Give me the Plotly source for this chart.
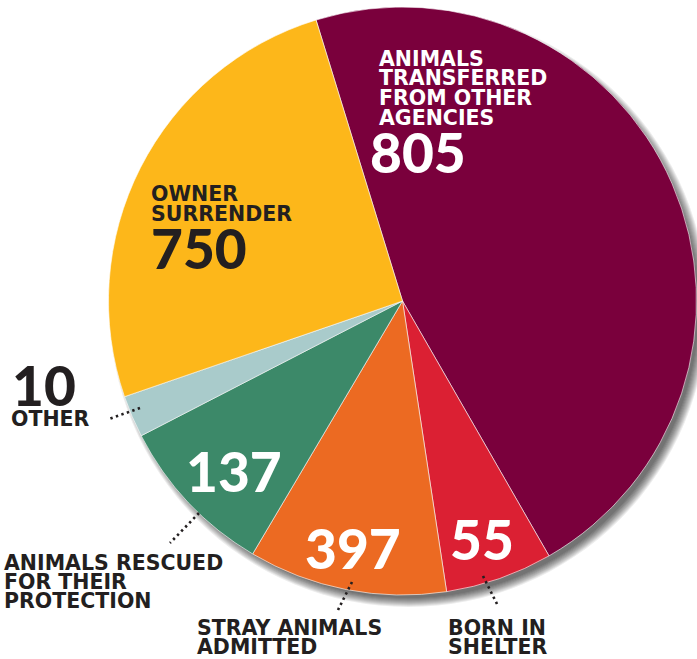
import plotly.graph_objects as go

W, H = 697, 659

# ---------------- data ----------------
categories = ["Animals transferred from other agencies", "Born in shelter",
              "Stray animals admitted", "Animals rescued for their protection",
              "Other", "Owner surrender"]
counts = [805, 55, 397, 137, 10, 750]
# slice shares as drawn in the picture (percent of the circle)
shares = [46.4, 5.9, 10.9, 8.9, 2.3, 25.5]
label_lines = [
    ["ANIMALS", "TRANSFERRED", "FROM OTHER", "AGENCIES"],
    ["BORN IN", "SHELTER"],
    ["STRAY ANIMALS", "ADMITTED"],
    ["ANIMALS RESCUED", "FOR THEIR", "PROTECTION"],
    ["OTHER"],
    ["OWNER", "SURRENDER"],
]
colors = ["#7A003C", "#DB2033", "#EC6A22", "#3C8969", "#A9CBCB", "#FDB71A"]

# ---------------- layout helpers ----------------
DARK = "#231F20"
cx, cy, R = 402.5, 301.0, 294.0


def px(x):
    return x / W


def py(y):
    return 1 - y / H


# label placement (pixels): number (left, center y, colour), text (left, first line y, step, colour)
placement = [
    dict(num=(370, 152.5, "white"), lab=(379, 58.5, 19.8, "white")),
    dict(num=(450, 538.5, "white"), lab=(448, 627.5, 19.0, DARK)),
    dict(num=(305, 548.0, "white"), lab=(197, 627.5, 19.0, DARK)),
    dict(num=(186, 470.5, "white"), lab=(4, 563.0, 18.8, DARK)),
    dict(num=(12, 385.0, DARK), lab=(11, 418.5, 19.0, DARK)),
    dict(num=(151, 247.5, DARK), lab=(151, 194.0, 20.0, DARK)),
]
leaders = [  # dotted leader lines (pixels)
    None,
    ((483, 576), (497, 604)),
    ((352, 582), (338, 610)),
    ((199, 513), (170, 543)),
    ((140, 408), (109, 419)),
    None,
]

fig = go.Figure()
fig.add_trace(go.Pie(
    labels=categories, values=shares, sort=False, direction="clockwise",
    rotation=-17.1, marker=dict(colors=colors, line=dict(color="white", width=0.6)),
    textinfo="none", hoverinfo="label", showlegend=False,
    domain=dict(x=[px(cx - R), px(cx + R)], y=[py(cy + R), py(cy - R)]),
))

shapes = []
# soft drop shadow
sdx, sdy = 6, 7
for dr in range(-4, 6):
    r = R + dr
    shapes.append(dict(type="circle", xref="paper", yref="paper", layer="below",
                       x0=px(cx + sdx - r), x1=px(cx + sdx + r),
                       y0=py(cy + sdy + r), y1=py(cy + sdy - r),
                       fillcolor="rgba(0,0,0,0.075)", line=dict(width=0)))
for ld in leaders:
    if ld is None:
        continue
    (x0, y0), (x1, y1) = ld
    shapes.append(dict(type="line", xref="paper", yref="paper",
                       x0=px(x0), y0=py(y0), x1=px(x1), y1=py(y1),
                       line=dict(color=DARK, width=2.6, dash="2.4px,3.4px")))

annotations = []
for i, p in enumerate(placement):
    nx, ny, ncol = p["num"]
    annotations.append(dict(
        text=str(counts[i]), x=px(nx), y=py(ny), xref="paper", yref="paper",
        xanchor="left", yanchor="middle", showarrow=False, borderpad=0, borderwidth=0,
        font=dict(family="Lato", size=55, color=ncol, weight=900)))
    lx, ly, step, lcol = p["lab"]
    for j, line in enumerate(label_lines[i]):
        annotations.append(dict(
            text=line, x=px(lx), y=py(ly + j * step), xref="paper", yref="paper",
            xanchor="left", yanchor="middle", showarrow=False, borderpad=0, borderwidth=0,
            font=dict(family="DejaVu Sans", size=20.5, color=lcol, weight="bold")))

fig.update_layout(
    width=W, height=H, margin=dict(l=0, r=0, t=0, b=0),
    paper_bgcolor="white", plot_bgcolor="white",
    shapes=shapes, annotations=annotations,
)
fig.write_html("out.html", config={"displayModeBar": False},
               post_script="document.body.style.margin='0px';")
